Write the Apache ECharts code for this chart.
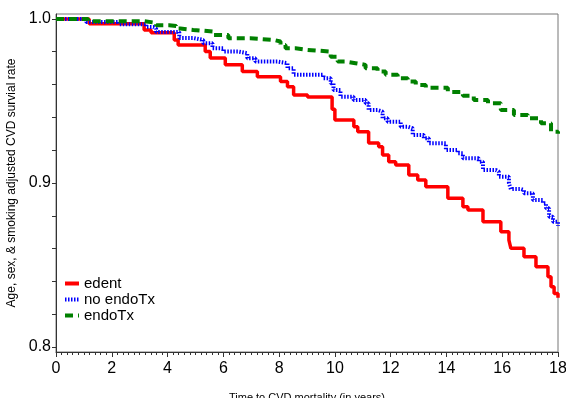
<!DOCTYPE html>
<html>
<head>
<meta charset="utf-8">
<script src="https://cdn.jsdelivr.net/npm/echarts@6/dist/echarts.min.js"></script>
<style>
  html, body { margin: 0; padding: 0; background: #fff; }
  #chart { width: 566px; height: 398px; }
</style>
</head>
<body>
<div id="chart"></div>
<script>
// [time in years, survival] at each drop of the curve
const edent = [
  [0, 1.0], [1.19, 0.9971], [3.16, 0.9933], [3.41, 0.9916], [4.24, 0.9872],
  [4.38, 0.9841], [5.35, 0.9801], [5.53, 0.9762], [6.07, 0.972], [6.68, 0.9679],
  [7.22, 0.9648], [8.05, 0.9618], [8.3, 0.9587], [8.52, 0.9537], [9.02, 0.9524],
  [9.9, 0.945], [10.0, 0.9384], [10.68, 0.9343], [10.82, 0.9313], [11.21, 0.9244],
  [11.57, 0.9221], [11.71, 0.9171], [11.93, 0.913], [12.18, 0.911], [12.65, 0.9049],
  [12.97, 0.9018], [13.26, 0.8977], [14.05, 0.8907], [14.59, 0.8855], [14.77, 0.8835],
  [15.31, 0.8764], [15.95, 0.8703], [16.24, 0.8652], [16.31, 0.8602], [16.78, 0.8551],
  [17.21, 0.849], [17.64, 0.8429], [17.75, 0.8368], [17.86, 0.8327], [18.0, 0.830]
];
const noEndoTx = [
  [0, 1.0], [1.08, 0.9982], [2.26, 0.9968], [3.23, 0.9951], [3.49, 0.9941],
  [3.59, 0.9921], [4.42, 0.9884], [4.92, 0.9872], [5.28, 0.9852], [5.61, 0.9821],
  [6.0, 0.9801], [6.54, 0.9791], [6.86, 0.976], [7.15, 0.974], [7.94, 0.973],
  [8.3, 0.9699], [8.52, 0.9659], [9.59, 0.9638], [9.85, 0.9608], [9.95, 0.9567],
  [10.2, 0.9526], [10.67, 0.9506], [11.1, 0.9486], [11.21, 0.9445], [11.53, 0.9435],
  [11.71, 0.9394], [11.89, 0.9374], [12.36, 0.9343], [12.61, 0.9334], [12.79, 0.9293],
  [13.19, 0.9273], [13.37, 0.9242], [13.98, 0.9201], [14.41, 0.9181], [14.59, 0.9151],
  [15.16, 0.913], [15.31, 0.9079], [15.77, 0.9069], [15.88, 0.9038], [16.24, 0.8998],
  [16.31, 0.8963], [16.67, 0.8957], [16.78, 0.8937], [17.1, 0.8896], [17.46, 0.8876],
  [17.57, 0.8846], [17.68, 0.8795], [17.82, 0.8764], [18.0, 0.8738]
];
const endoTx = [
  [0, 1.0], [1.15, 0.9986], [3.16, 0.9976], [3.59, 0.9962], [4.06, 0.9957],
  [4.31, 0.9941], [4.46, 0.9933], [4.92, 0.9923], [5.64, 0.9902], [6.18, 0.9882],
  [6.97, 0.9872], [7.8, 0.9862], [8.05, 0.9841], [8.23, 0.9821], [8.59, 0.9811],
  [9.02, 0.9801], [9.85, 0.977], [10.1, 0.974], [10.38, 0.973], [10.74, 0.972],
  [11.1, 0.9699], [11.53, 0.9679], [11.82, 0.9659], [12.25, 0.9638], [12.61, 0.9618],
  [12.9, 0.9598], [13.26, 0.9581], [14.05, 0.9555], [14.59, 0.9532], [14.98, 0.9506],
  [15.49, 0.9486], [15.95, 0.9445], [16.42, 0.9415], [16.92, 0.9395], [17.39, 0.9364],
  [17.75, 0.9313], [18.0, 0.930]
];

const yLabelValues = [0.8, 0.9, 1.0];
const yTickValues = [0.8, 0.82, 0.84, 0.86, 0.88, 0.9, 0.92, 0.94, 0.96, 0.98, 1.0];

const font = "'Liberation Sans', Arial, sans-serif";

const myChart = echarts.init(document.getElementById("chart"));

const option = {
  animation: false,
  grid: {
    left: 56, right: 8, top: 14, bottom: 46,
    outerBoundsMode: "none",
    show: true, borderColor: "#777", borderWidth: 1,
  },
  legend: {
    orient: "vertical",
    left: 58,
    top: 271,
    itemWidth: 14,
    itemHeight: 4,
    itemGap: 1,
    itemStyle: { opacity: 0 },
    lineStyle: { width: 4 },
    textStyle: { fontFamily: font, fontSize: 15, color: "#000" },
    data: ["edent", "no endoTx", "endoTx"],
  },
  xAxis: {
    type: "value",
    min: 0,
    max: 18,
    interval: 2,
    name: "Time to CVD mortality (in years)",
    nameLocation: "middle",
    nameGap: 40,
    nameTextStyle: { fontFamily: font, fontSize: 11, color: "#000" },
    splitLine: { show: false },
    axisLine: { lineStyle: { color: "#333" } },
    axisTick: { length: 5, lineStyle: { color: "#333" } },
    minorTick: { show: true, splitNumber: 10, length: 3, lineStyle: { color: "#333" } },
    axisLabel: { fontFamily: font, fontSize: 16, color: "#000", margin: 9 },
  },
  yAxis: {
    type: "value",
    min: 0.797,
    max: 1.003,
    name: "Age, sex, & smoking adjusted CVD survial rate",
    nameLocation: "middle",
    nameGap: 36,
    nameTextStyle: { fontFamily: font, fontSize: 12, color: "#000", padding: [0, 0, 0, 0] },
    splitLine: { show: false },
    axisLine: { show: true, lineStyle: { color: "#333" } },
    axisTick: { show: true, length: 4, customValues: yTickValues, lineStyle: { color: "#333" } },
    axisLabel: {
      fontFamily: font, fontSize: 16, color: "#000", margin: 5,
      customValues: yLabelValues,
      formatter: (v) => v.toFixed(1),
    },
  },
  series: [
    {
      name: "edent",
      type: "line",
      step: "end",
      data: edent,
      symbol: "none",
      color: "#ff0000",
      lineStyle: { width: 3.5, color: "#ff0000" },
    },
    {
      name: "no endoTx",
      type: "line",
      step: "end",
      data: noEndoTx,
      symbol: "none",
      color: "#0000ff",
      lineStyle: { width: 4, color: "#0000ff", type: [1.5, 1.5] },
    },
    {
      name: "endoTx",
      type: "line",
      step: "end",
      data: endoTx,
      symbol: "none",
      color: "#008000",
      lineStyle: { width: 4, color: "#008000", type: [8, 5] },
    },
  ],
};

myChart.setOption(option);
</script>
</body>
</html>
